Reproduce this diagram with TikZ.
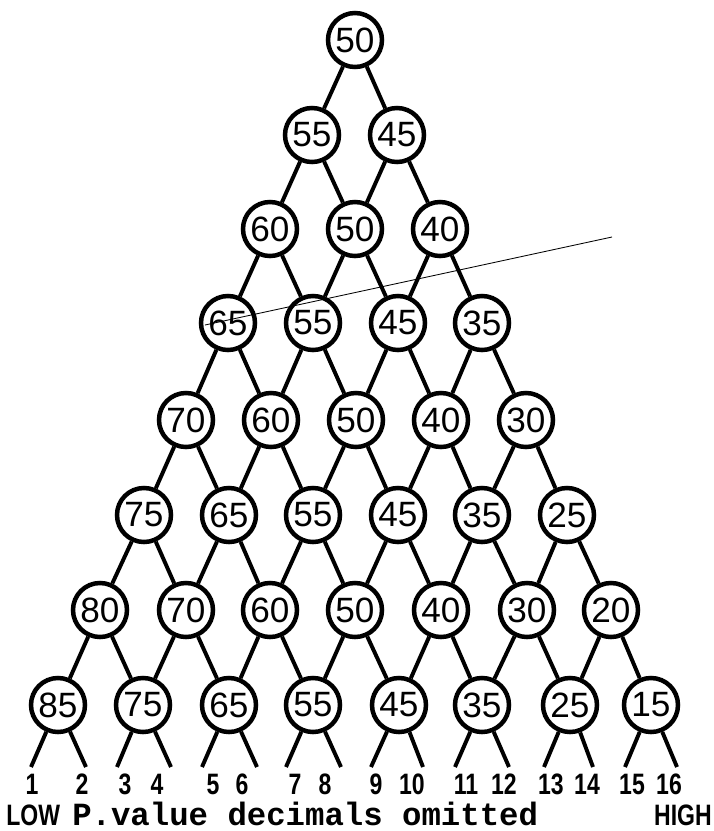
\documentclass[tikz,border=0pt]{standalone}
\usepackage{fontspec}
\setmainfont{Liberation Sans}
\setmonofont{Liberation Mono}
\newfontfamily\tagfont[FakeStretch=0.78]{Liberation Sans Bold}
\usetikzlibrary{positioning}
\tikzset{
  pnode/.style={draw,circle,line width=3.2pt,minimum size=1.35cm,inner sep=0pt,
                font=\fontsize{25}{25}\selectfont},
  link/.style={line width=2.8pt},
  tag/.style={inner sep=0pt,font=\tagfont\fontsize{21}{21}\selectfont},
  endtag/.style={inner sep=0pt,font=\tagfont\fontsize{21}{21}\selectfont},
  stray/.style={line width=0.6pt}
}

\begin{document}
\begin{tikzpicture}[x=0.025cm,y=-0.025cm]
  \useasboundingbox (0,0) rectangle (714,831);

  % probability nodes, one row per level
  \node[pnode] (a0) at (355,40) {50};

  \node[pnode] (b0) at (312,135) {55};
  \node[pnode] (b1) at (397,135) {45};

  \node[pnode] (c0) at (270,229) {60};
  \node[pnode] (c1) at (355,229) {50};
  \node[pnode] (c2) at (440,229) {40};

  \node[pnode] (d0) at (228,323) {65};
  \node[pnode] (d1) at (313,323) {55};
  \node[pnode] (d2) at (398,323) {45};
  \node[pnode] (d3) at (482,323) {35};

  \node[pnode] (e0) at (186,420) {70};
  \node[pnode] (e1) at (271,420) {60};
  \node[pnode] (e2) at (356,420) {50};
  \node[pnode] (e3) at (441,420) {40};
  \node[pnode] (e4) at (526,420) {30};

  \node[pnode] (f0) at (144,515) {75};
  \node[pnode] (f1) at (229,515) {65};
  \node[pnode] (f2) at (313,515) {55};
  \node[pnode] (f3) at (398,515) {45};
  \node[pnode] (f4) at (482,515) {35};
  \node[pnode] (f5) at (567,515) {25};

  \node[pnode] (g0) at (100,610) {80};
  \node[pnode] (g1) at (186,610) {70};
  \node[pnode] (g2) at (270,610) {60};
  \node[pnode] (g3) at (355,610) {50};
  \node[pnode] (g4) at (441,610) {40};
  \node[pnode] (g5) at (527,610) {30};
  \node[pnode] (g6) at (611,610) {20};

  \node[pnode] (h0) at (58,705) {85};
  \node[pnode] (h1) at (143,705) {75};
  \node[pnode] (h2) at (229,705) {65};
  \node[pnode] (h3) at (313,705) {55};
  \node[pnode] (h4) at (399,705) {45};
  \node[pnode] (h5) at (482,705) {35};
  \node[pnode] (h6) at (570,705) {25};
  \node[pnode] (h7) at (651,705) {15};

  % links between levels
  \draw[link] (a0) -- (b0);
  \draw[link] (a0) -- (b1);

  \draw[link] (b0) -- (c0);
  \draw[link] (b0) -- (c1);
  \draw[link] (b1) -- (c1);
  \draw[link] (b1) -- (c2);

  \draw[link] (c0) -- (d0);
  \draw[link] (c0) -- (d1);
  \draw[link] (c1) -- (d1);
  \draw[link] (c1) -- (d2);
  \draw[link] (c2) -- (d2);
  \draw[link] (c2) -- (d3);

  \draw[link] (d0) -- (e0);
  \draw[link] (d0) -- (e1);
  \draw[link] (d1) -- (e1);
  \draw[link] (d1) -- (e2);
  \draw[link] (d2) -- (e2);
  \draw[link] (d2) -- (e3);
  \draw[link] (d3) -- (e3);
  \draw[link] (d3) -- (e4);

  \draw[link] (e0) -- (f0);
  \draw[link] (e0) -- (f1);
  \draw[link] (e1) -- (f1);
  \draw[link] (e1) -- (f2);
  \draw[link] (e2) -- (f2);
  \draw[link] (e2) -- (f3);
  \draw[link] (e3) -- (f3);
  \draw[link] (e3) -- (f4);
  \draw[link] (e4) -- (f4);
  \draw[link] (e4) -- (f5);

  \draw[link] (f0) -- (g0);
  \draw[link] (f0) -- (g1);
  \draw[link] (f1) -- (g1);
  \draw[link] (f1) -- (g2);
  \draw[link] (f2) -- (g2);
  \draw[link] (f2) -- (g3);
  \draw[link] (f3) -- (g3);
  \draw[link] (f3) -- (g4);
  \draw[link] (f4) -- (g4);
  \draw[link] (f4) -- (g5);
  \draw[link] (f5) -- (g5);
  \draw[link] (f5) -- (g6);

  \draw[link] (g0) -- (h0);
  \draw[link] (g0) -- (h1);
  \draw[link] (g1) -- (h1);
  \draw[link] (g1) -- (h2);
  \draw[link] (g2) -- (h2);
  \draw[link] (g2) -- (h3);
  \draw[link] (g3) -- (h3);
  \draw[link] (g3) -- (h4);
  \draw[link] (g4) -- (h4);
  \draw[link] (g4) -- (h5);
  \draw[link] (g5) -- (h5);
  \draw[link] (g5) -- (h6);
  \draw[link] (g6) -- (h6);
  \draw[link] (g6) -- (h7);

  % free ends of the last level
  \coordinate (t1) at (31,767);   \coordinate (t2) at (86,767);
  \coordinate (t3) at (117,767);  \coordinate (t4) at (171,767);
  \coordinate (t5) at (202,767);  \coordinate (t6) at (257,767);
  \coordinate (t7) at (286,767);  \coordinate (t8) at (341,767);
  \coordinate (t9) at (371,767);  \coordinate (t10) at (423,767);
  \coordinate (t11) at (455,767); \coordinate (t12) at (509,767);
  \coordinate (t13) at (544,767); \coordinate (t14) at (593,767);
  \coordinate (t15) at (625,767); \coordinate (t16) at (677,767);

  \draw[link] (h0) -- (t1);
  \draw[link] (h0) -- (t2);
  \draw[link] (h1) -- (t3);
  \draw[link] (h1) -- (t4);
  \draw[link] (h2) -- (t5);
  \draw[link] (h2) -- (t6);
  \draw[link] (h3) -- (t7);
  \draw[link] (h3) -- (t8);
  \draw[link] (h4) -- (t9);
  \draw[link] (h4) -- (t10);
  \draw[link] (h5) -- (t11);
  \draw[link] (h5) -- (t12);
  \draw[link] (h6) -- (t13);
  \draw[link] (h6) -- (t14);
  \draw[link] (h7) -- (t15);
  \draw[link] (h7) -- (t16);

  % outcome numbers
  \node[tag] (n1) at (32,784) {1};
  \node[tag] (n2) at (82,784) {2};
  \node[tag] (n3) at (125,784) {3};
  \node[tag] (n4) at (157,784) {4};
  \node[tag] (n5) at (213,784) {5};
  \node[tag] (n6) at (242,784) {6};
  \node[tag] (n7) at (295,784) {7};
  \node[tag] (n8) at (325,784) {8};
  \node[tag] (n9) at (376,784) {9};
  \node[tag] (n10) at (412,784) {10};
  \node[tag] (n11) at (466,784) {11};
  \node[tag] (n12) at (504,784) {12};
  \node[tag] (n13) at (551,784) {13};
  \node[tag] (n14) at (587,784) {14};
  \node[tag] (n15) at (632,784) {15};
  \node[tag] (n16) at (669,784) {16};

  % caption line
  \node[endtag,anchor=west] (low) at (6,815) {LOW};
  \node[anchor=west,inner sep=0pt,font=\ttfamily\bfseries\fontsize{23}{23}\selectfont]
    (note) at (72,814) {P.value decimals omitted};
  \node[endtag,anchor=east] (high) at (712,815) {HIGH};

  % pen stroke across the fourth level
  \draw[stray] (205,325) -- (612,237);
\end{tikzpicture}
\end{document}
